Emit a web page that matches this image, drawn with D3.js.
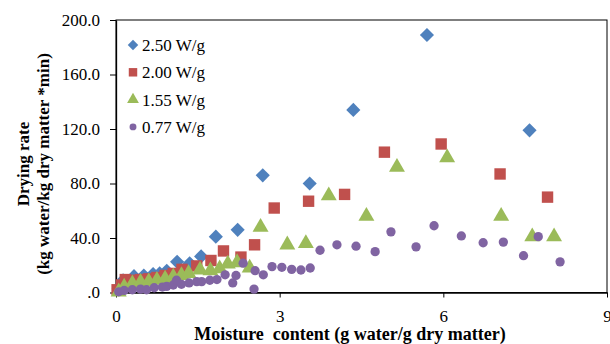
<!DOCTYPE html>
<html>
<head>
<meta charset="utf-8">
<script src="https://cdn.jsdelivr.net/npm/d3@7/dist/d3.min.js"></script>
<style>
  body { margin: 0; background: #fff; }
  svg { display: block; }
  svg text { font-family: "Liberation Serif", "DejaVu Serif", "Times New Roman", Times, serif; fill: #000; }
  .axis path, .axis line { stroke: #000; }
  .axis text { font-size: 17px; }
</style>
</head>
<body>
<svg id="chart" width="610" height="344"></svg>
<script>
// series: [moisture content, drying rate]
const seriesNames = ['2.50 W/g', '2.00 W/g', '1.55 W/g', '0.77 W/g'];

const s250 = [
  [0.05, 3], [0.13, 9], [0.33, 12], [0.51, 12.5], [0.68, 13.5], [0.80, 14], [0.93, 16],
  [1.12, 22.5], [1.35, 21.5], [1.56, 26.5], [1.83, 41], [2.23, 46], [2.69, 86],
  [3.55, 80], [4.35, 134], [5.70, 189], [7.58, 119]
];
const s200 = [
  [0.02, 2], [0.10, 5.5], [0.17, 9.5], [0.30, 9], [0.45, 9.5], [0.60, 10], [0.75, 11],
  [0.90, 12.5], [1.05, 14], [1.21, 17], [1.48, 19.5], [1.74, 23.5], [1.97, 30.5],
  [2.29, 26], [2.54, 35], [2.90, 62], [3.53, 67], [4.19, 72], [4.92, 103], [5.96, 109],
  [7.04, 87], [7.91, 70]
];
const s155 = [
  [0.05, 0.5], [0.15, 4], [0.30, 6.5], [0.45, 7.5], [0.60, 8], [0.75, 9], [0.90, 10],
  [1.05, 11.5], [1.20, 12.5], [1.33, 14], [1.54, 16.5], [1.73, 16], [1.90, 17.5],
  [2.05, 21], [2.22, 22], [2.45, 18], [2.65, 48], [3.14, 35], [3.48, 36], [3.90, 71],
  [4.59, 56], [5.15, 92], [6.07, 99], [7.06, 56], [7.63, 41], [8.03, 41]
];
const s077 = [
  [0.05, 0.5], [0.15, 1.5], [0.30, 2], [0.45, 2.5], [0.56, 2], [0.70, 3.5], [0.85, 4],
  [0.93, 4.5], [1.05, 5.5], [1.11, 9], [1.20, 6], [1.34, 7], [1.48, 8], [1.57, 8],
  [1.72, 9], [1.85, 9.5], [2.00, 13], [2.14, 7], [2.20, 12.5], [2.33, 21.5], [2.53, 2.5],
  [2.55, 16], [2.70, 13], [2.86, 19], [3.04, 18.5], [3.22, 17], [3.39, 16.5], [3.56, 18],
  [3.74, 31], [4.05, 35], [4.40, 34], [4.75, 30], [5.04, 44.5], [5.50, 33.5], [5.83, 49],
  [6.33, 41.5], [6.73, 36.5], [7.10, 37], [7.47, 27], [7.74, 41], [8.14, 22.5]
];

const xTicks = [0, 3, 6, 9];
const yTicks = [0, 40, 80, 120, 160, 200];

const colors = ['#4f81bd', '#c0504d', '#9bbb59', '#8064a2'];
const shapes = [d3.symbolSquare, d3.symbolSquare, d3.symbolTriangle, d3.symbolCircle];
const rotations = [45, 0, 0, 0];
const sizes = [100, 130, 110, 68];
const allSeries = [s250, s200, s155, s077];

const margin = { left: 116, right: 3, top: 20, bottom: 51.5 };
const width = 610, height = 344;

const svg = d3.select('#chart');

const x = d3.scaleLinear().domain([0, 9]).range([margin.left, width - margin.right]);
const y = d3.scaleLinear().domain([0, 200]).range([height - margin.bottom, margin.top]);

// plot frame
svg.append('rect')
  .attr('x', x(0)).attr('y', y(200))
  .attr('width', x(9) - x(0)).attr('height', y(0) - y(200))
  .attr('fill', 'none').attr('stroke', '#000').attr('stroke-width', 1);

// axes (d3 puts font-family="sans-serif" on the group, drop it)
svg.append('g')
  .attr('class', 'axis')
  .attr('transform', `translate(0,${y(0)})`)
  .call(d3.axisBottom(x).tickValues(xTicks).tickSize(5).tickPadding(12).tickSizeOuter(0))
  .attr('font-family', null)
  .call(g => g.select('.domain').attr('stroke-width', 1.3));

svg.append('g')
  .attr('class', 'axis')
  .attr('transform', `translate(${x(0)},0)`)
  .call(d3.axisLeft(y).tickValues(yTicks).tickSize(6).tickPadding(10).tickSizeOuter(0)
    .tickFormat(d => d === 0 ? '.0' : d.toFixed(1)))
  .attr('font-family', null)
  .call(g => g.select('.domain').attr('stroke-width', 1.3));

// points, drawn so the low-power series sits on top
allSeries.forEach((data, i) => {
  svg.append('g')
    .selectAll('path')
    .data(data)
    .enter().append('path')
    .attr('transform', d => `translate(${x(d[0])},${y(d[1])}) rotate(${rotations[i]})`)
    .attr('d', d3.symbol().type(shapes[i]).size(sizes[i]))
    .attr('fill', colors[i]);
});

// legend
const legend = svg.append('g').attr('transform', `translate(${x(0)},0)`);
seriesNames.forEach((name, i) => {
  const ly = 45 + i * 27.3;
  legend.append('path')
    .attr('transform', `translate(17,${ly}) rotate(${rotations[i]})`)
    .attr('d', d3.symbol().type(shapes[i]).size(sizes[i] * 0.55))
    .attr('fill', colors[i]);
  legend.append('text')
    .attr('x', 26).attr('y', ly + 6)
    .style('font-size', '17px')
    .text(name);
});

// axis titles
svg.append('text')
  .attr('x', 350).attr('y', 340)
  .attr('text-anchor', 'middle')
  .style('font-size', '18px').style('font-weight', 'bold')
  .style('white-space', 'pre')
  .text('Moisture  content (g water/g dry matter)');

const yTitle = svg.append('text')
  .attr('transform', 'translate(0,164) rotate(-90)')
  .attr('text-anchor', 'middle')
  .style('font-size', '17px').style('font-weight', 'bold');
yTitle.append('tspan').attr('x', 0).attr('y', 29).text('Drying rate');
yTitle.append('tspan').attr('x', 0).attr('y', 49).text('(kg water/kg dry matter *min)');
</script>
</body>
</html>
